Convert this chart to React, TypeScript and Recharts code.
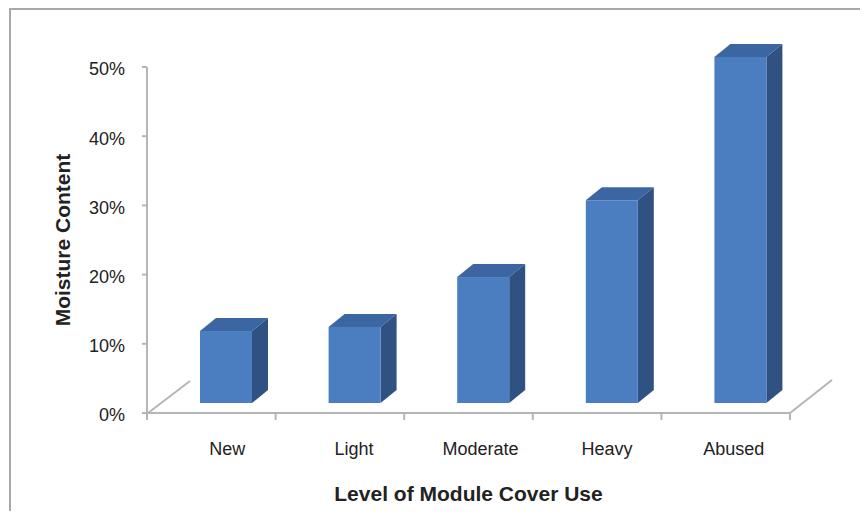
import React from 'react';
import { BarChart, Bar, XAxis, YAxis } from 'recharts';

const categories = ['New', 'Light', 'Moderate', 'Heavy', 'Abused'];
const moisture = [10.4, 11.0, 18.2, 29.3, 50.0];
const yTicks = [0, 10, 20, 30, 40, 50];

const data = categories.map((c, i) => ({ category: c, moisture: moisture[i] }));

const AXIS = '#b5b5b5';
const FRONT = '#4a7ec0';
const TOP = '#3b66a2';
const SIDE = '#2f5283';
const DX = 16;
const DY = -13;

const Bar3D = (props: any) => {
  const { x, y, width, height } = props;
  const fx = x + 15;
  const fy = y - 10;
  const w = width;
  const h = height;
  return (
    <g>
      <polygon
        points={`${fx},${fy} ${fx + DX},${fy + DY} ${fx + w + DX},${fy + DY} ${fx + w},${fy}`}
        fill={TOP}
      />
      <polygon
        points={`${fx + w},${fy} ${fx + w + DX},${fy + DY} ${fx + w + DX},${fy + h + DY} ${fx + w},${fy + h}`}
        fill={SIDE}
      />
      <rect x={fx} y={fy} width={w} height={h} fill={FRONT} />
    </g>
  );
};

const XTick = (props: any) => {
  const { x, y, payload, index } = props;
  const half = payload && typeof payload.offset === 'number' && payload.offset > 0 ? payload.offset : 64.3;
  const last = categories.length - 1;
  return (
    <g>
      <text
        x={x + 16 - 2 * index}
        y={y + 42}
        textAnchor="middle"
        fontSize={18}
        fill="#222"
        fontFamily="Liberation Sans, Arial, sans-serif"
      >
        {payload.value}
      </text>
      <line x1={x + half} y1={y} x2={x + half} y2={y + 7} stroke={AXIS} strokeWidth={2} />
      {index === 0 && (
        <>
          <line x1={x - half} y1={y} x2={x - half} y2={y + 7} stroke={AXIS} strokeWidth={2} />
          <line x1={x - half + 1} y1={y} x2={x - half + 43} y2={y - 32} stroke={AXIS} strokeWidth={2} />
        </>
      )}
      {index === last && (
        <line x1={x + half} y1={y} x2={x + half + 42} y2={y - 33} stroke={AXIS} strokeWidth={2} />
      )}
    </g>
  );
};

export default function App() {
  return (
    <div
      style={{
        marginLeft: 1,
        width: 857,
        height: 501,
        borderTop: '2px solid #a8a8a8',
        borderLeft: '2px solid #a8a8a8',
      }}
    >
      <BarChart
        width={857}
        height={501}
        data={data}
        margin={{ top: 57, right: 78, bottom: 8, left: 26 }}
        barSize={52}
        style={{ fontFamily: 'Liberation Sans, Arial, sans-serif' }}
      >
        <XAxis
          dataKey="category"
          height={90}
          interval={0}
          tickLine={false}
          tickSize={0}
          tickMargin={0}
          axisLine={{ stroke: AXIS, strokeWidth: 2 }}
          tick={<XTick />}
          label={{
            value: 'Level of Module Cover Use',
            position: 'insideBottom',
            offset: 2,
            style: { fontSize: 21, fontWeight: 'bold', fill: '#222', fontFamily: 'Liberation Sans, Arial, sans-serif' },
          }}
        />
        <YAxis
          width={110}
          domain={[0, 50]}
          ticks={yTicks}
          interval={0}
          tickFormatter={(v: number) => `${v}%`}
          tickSize={5}
          tickMargin={17}
          axisLine={{ stroke: AXIS, strokeWidth: 2 }}
          tickLine={{ stroke: AXIS, strokeWidth: 2 }}
          tick={{ fontSize: 18, fill: '#222', dy: 2 }}
          label={{
            value: 'Moisture Content',
            angle: -90,
            position: 'insideLeft',
            offset: 26,
            style: { textAnchor: 'middle', fontSize: 21, fontWeight: 'bold', fill: '#222', fontFamily: 'Liberation Sans, Arial, sans-serif' },
          }}
        />
        <Bar dataKey="moisture" shape={<Bar3D />} isAnimationActive={false} />
      </BarChart>
    </div>
  );
}
